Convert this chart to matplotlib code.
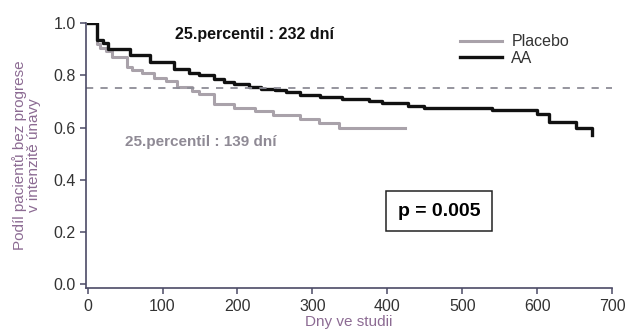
import matplotlib.pyplot as plt
from matplotlib.lines import Line2D

plt.rcParams['font.family'] = ['Liberation Sans', 'DejaVu Sans']

# Kaplan-Meier kroky (den, podil bez progrese)
aa_days = [0, 13, 20, 27, 56, 83, 116, 136, 149, 169, 182, 196, 215, 232, 250, 265, 283, 310, 340, 376, 393, 427, 449, 540, 599, 616, 652, 673]
aa_surv = [1.0, 0.935, 0.925, 0.90, 0.877, 0.85, 0.823, 0.81, 0.80, 0.785, 0.775, 0.765, 0.757, 0.748, 0.742, 0.735, 0.724, 0.716, 0.709, 0.70, 0.694, 0.682, 0.675, 0.668, 0.65, 0.62, 0.60, 0.57]

pl_days = [0, 13, 16, 25, 32, 53, 59, 73, 89, 105, 119, 139, 149, 169, 196, 223, 247, 283, 309, 336, 424]
pl_surv = [1.0, 0.92, 0.905, 0.895, 0.87, 0.83, 0.82, 0.81, 0.79, 0.778, 0.755, 0.74, 0.728, 0.69, 0.675, 0.664, 0.648, 0.632, 0.618, 0.60, 0.60]

x_ticks = [0, 100, 200, 300, 400, 500, 600, 700]
y_ticks = [0.0, 0.2, 0.4, 0.6, 0.8, 1.0]

BLACK = "#111111"
GREY = "#a9a2aa"
AXIS = "#4b4a66"
LABEL = "#8c6b93"

fig = plt.figure(figsize=(6.28, 3.35), dpi=100)
ax = fig.add_axes([0.137, 0.140, 0.838, 0.791])

ax.step(pl_days, pl_surv, where="post", color=GREY, linewidth=2.2)
ax.step(aa_days, aa_surv, where="post", color=BLACK, linewidth=2.4)
ax.axhline(0.75, color="#8d8c96", linestyle=(0, (4, 4)), linewidth=1.3)

ax.set_xlim(-2, 700)
ax.set_ylim(-0.015, 1.0)
ax.set_xticks(x_ticks)
ax.set_yticks(y_ticks)
ax.set_yticklabels([f"{v:.1f}" for v in y_ticks])

for s in ["top", "right"]:
    ax.spines[s].set_visible(False)
for s in ["left", "bottom"]:
    ax.spines[s].set_color(AXIS)
    ax.spines[s].set_linewidth(1.2)
ax.tick_params(colors=AXIS, labelcolor="#333333", labelsize=11.5, length=4, width=1.1)

ax.set_xlabel("Dny ve studii", color=LABEL, fontsize=11, labelpad=1)
ax.set_ylabel("Podíl pacientů bez progrese\nv intenzitě únavy", color=LABEL, fontsize=11,
              linespacing=1.0, labelpad=9)

ax.text(117, 0.955, "25.percentil : 232 dní", color=BLACK, fontsize=11.5, fontweight="bold",
        va="center", ha="left")
ax.text(50, 0.545, "25.percentil : 139 dní", color="#8f8a95", fontsize=11, fontweight="bold",
        va="center", ha="left")

ax.text(469, 0.28, "p = 0.005", fontsize=14, fontweight="bold", ha="center", va="center",
        bbox=dict(boxstyle="square,pad=0.6", facecolor="white", edgecolor="#222222", linewidth=1.1))

handles = [Line2D([], [], color=GREY, linewidth=2.2), Line2D([], [], color=BLACK, linewidth=2.4)]
leg = ax.legend(handles, ["Placebo", "AA"], loc="upper left", bbox_to_anchor=(0.69, 1.0),
                frameon=False, fontsize=11.5, handlelength=2.6, labelspacing=0.1,
                handletextpad=0.6, borderaxespad=0.3)
for t in leg.get_texts():
    t.set_color("#333333")

fig.savefig("out.png", dpi=100)
